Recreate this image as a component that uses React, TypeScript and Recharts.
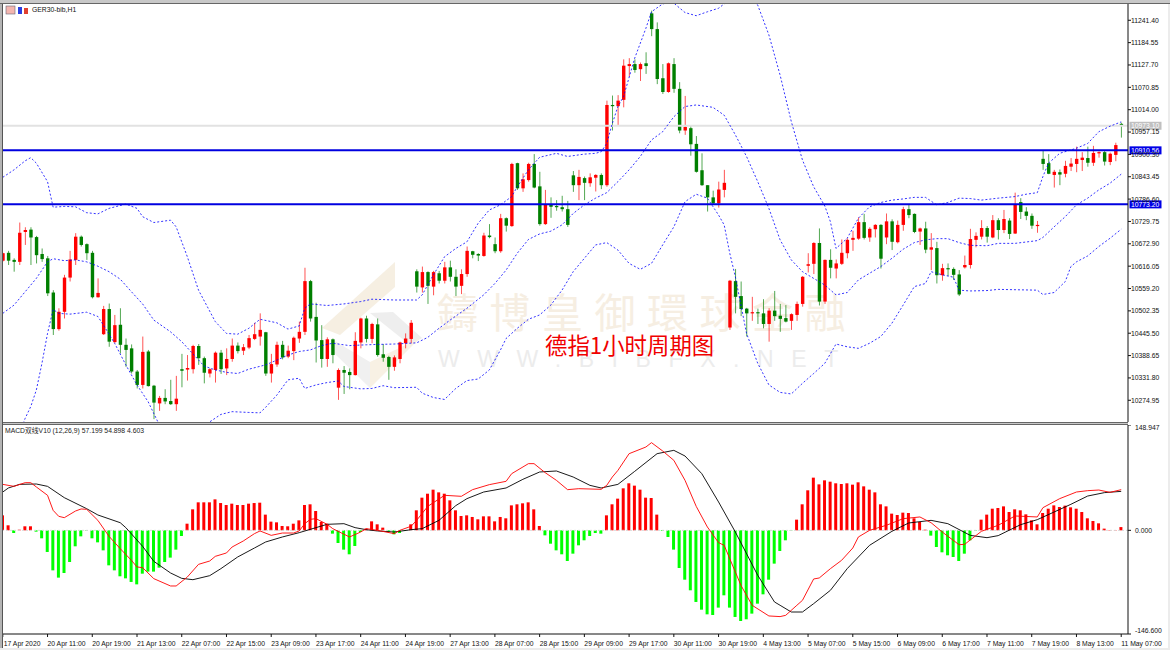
import React from "react";
import { ComposedChart, Bar, Line, XAxis, YAxis, ReferenceLine, Cell } from "recharts";

const opens = [
10630,10650,10632,10627,10703,10709,10690,10647,10636,10549,
10456,10500,10587,10632,10691,10672,10650,10537,10443,10507,
10423,10467,10416,10407,10348,10314,10399,10312,10267,10281,
10273,10265,10354,10353,10354,10413,10382,10343,10352,10396,
10356,10380,10414,10401,10409,10431,10437,10448,10343,10366,
10416,10386,10400,10432,10449,10578,10487,10428,10380,10430,
10307,10352,10347,10339,10422,10483,10431,10468,10392,10385,
10360,10380,10420,10431,10603,10562,10601,10564,10598,10579,
10613,10589,10566,10596,10654,10647,10642,10694,10672,10654,
10738,10718,10878,10814,10835,10876,10819,10723,10774,10769,
10766,10761,10847,10822,10840,10827,10841,10848,10822,11026,
11023,11039,11125,11130,11117,11132,11259,11219,11094,11059,
11130,11067,10961,10967,10927,10860,10822,10791,10776,10810,
10460,10578,10540,10508,10497,10499,10496,10469,10503,10490,
10484,10477,10492,10520,10617,10622,10675,10526,10632,10610,
10622,10649,10683,10686,10728,10689,10710,10721,10689,10730,
10677,10721,10761,10749,10704,10712,10658,10662,10593,10611,
10609,10595,10613,10619,10683,10691,10713,10689,10733,10708,
10732,10699,10779,10755,10744,10718,10889,10878,10848,10855,
10851,10869,10876,10886,10891,10879,10903,10906,10881,10899,
10978];
const closes = [
10649,10630,10627,10701,10708,10689,10644,10634,10547,10456,
10500,10587,10633,10691,10670,10649,10537,10548,10507,10424,
10466,10416,10403,10348,10314,10398,10311,10269,10281,10272,
10265,10279,10350,10357,10413,10382,10345,10354,10396,10354,
10380,10414,10400,10410,10433,10443,10454,10343,10367,10416,
10384,10401,10434,10449,10578,10483,10427,10380,10430,10390,
10352,10345,10339,10426,10483,10431,10469,10390,10383,10360,
10384,10422,10432,10472,10564,10601,10566,10601,10579,10613,
10589,10564,10596,10655,10645,10643,10694,10690,10654,10738,
10719,10876,10814,10837,10876,10816,10723,10774,10767,10767,
10761,10721,10822,10843,10828,10842,10848,10822,11026,11024,
11037,11126,11130,11115,11130,11125,11219,11092,11059,11132,
11067,10961,10970,10926,10856,10822,10791,10776,10811,10828,
10579,10538,10507,10496,10499,10498,10469,10503,10489,10482,
10475,10494,10520,10589,10621,10675,10526,10632,10612,10623,
10650,10683,10688,10728,10688,10711,10721,10635,10730,10678,
10721,10761,10746,10703,10712,10658,10664,10593,10611,10610,
10594,10544,10619,10685,10693,10713,10691,10733,10708,10736,
10698,10774,10754,10744,10719,10721,10876,10851,10856,10849,
10871,10877,10889,10892,10879,10904,10906,10882,10902,10924,
10973];
const highs = [
10650,10655,10636,10727,10715,10715,10693,10661,10642,10555,
10509,10594,10655,10700,10694,10674,10655,10585,10515,10521,
10492,10509,10432,10417,10352,10437,10403,10314,10286,10303,
10327,10337,10393,10390,10416,10418,10386,10356,10399,10403,
10407,10432,10422,10418,10441,10472,10496,10449,10393,10424,
10426,10414,10437,10475,10612,10581,10523,10466,10435,10432,
10356,10362,10356,10448,10485,10490,10472,10483,10418,10388,
10389,10424,10445,10479,10608,10615,10603,10604,10604,10627,
10630,10608,10608,10666,10655,10649,10701,10723,10689,10749,
10740,10879,10879,10852,10879,10901,10856,10810,10791,10784,
10795,10782,10858,10861,10844,10852,10850,10852,11037,11050,
11051,11142,11145,11142,11134,11160,11266,11236,11130,11134,
11145,11084,11049,10975,10947,10903,10822,10808,10831,10861,
10581,10609,10577,10510,10538,10508,10532,10509,10553,10520,
10517,10496,10526,10591,10649,10677,10712,10633,10659,10633,
10684,10687,10706,10740,10749,10715,10723,10723,10750,10735,
10732,10767,10774,10750,10714,10729,10700,10678,10622,10623,
10613,10606,10643,10711,10702,10733,10718,10746,10738,10759,
10738,10803,10789,10766,10750,10731,10910,10901,10861,10862,
10884,10891,10920,10906,10920,10922,10908,10909,10905,10930,
10981];
const lows = [
10628,10619,10602,10619,10670,10619,10623,10627,10540,10441,
10452,10483,10577,10619,10666,10632,10534,10536,10441,10411,
10420,10394,10360,10343,10305,10305,10310,10227,10248,10265,
10263,10248,10308,10325,10343,10365,10318,10333,10320,10342,
10339,10373,10394,10390,10405,10428,10414,10337,10320,10360,
10379,10382,10377,10421,10441,10475,10371,10358,10360,10369,
10276,10291,10303,10338,10407,10422,10420,10386,10373,10327,
10350,10369,10407,10420,10549,10549,10520,10542,10572,10572,
10577,10540,10545,10589,10636,10629,10640,10687,10649,10650,
10704,10716,10810,10805,10831,10814,10719,10721,10739,10757,
10755,10716,10805,10784,10784,10818,10806,10812,10818,10961,
10975,11020,11098,11108,11087,11105,11201,11079,11054,11057,
11057,10954,10950,10897,10854,10820,10755,10774,10765,10791,
10454,10496,10489,10437,10477,10469,10458,10424,10477,10449,
10473,10454,10477,10513,10600,10596,10516,10520,10585,10585,
10619,10636,10655,10683,10684,10678,10689,10610,10672,10657,
10674,10706,10738,10700,10670,10649,10606,10572,10579,10591,
10581,10540,10610,10610,10664,10684,10676,10687,10684,10700,
10685,10698,10736,10733,10711,10701,10861,10850,10816,10822,
10842,10858,10855,10858,10869,10871,10892,10872,10873,10883,
10943];

const upperBand = [[0,10842],[2,10861],[4,10884],[5,10892],[6,10878],[8,10831],[9,10766],[11,10768],[13,10767],[15,10752],[17,10749],[19,10763],[22,10774],[24,10763],[25,10742],[27,10727],[30,10733],[31,10716],[33,10640],[35,10555],[38,10475],[40,10445],[42,10443],[44,10458],[46,10481],[49,10472],[51,10456],[53,10464],[54,10509],[55,10520],[58,10516],[61,10520],[64,10526],[66,10532],[70,10530],[74,10530],[75,10543],[77,10594],[79,10640],[81,10661],[83,10678],[85,10725],[87,10759],[89,10772],[91,10793],[92,10818],[94,10861],[96,10893],[99,10903],[101,10895],[104,10901],[106,10903],[107,10907],[108,10928],[109,10979],[110,11022],[111,11047],[113,11145],[115,11221],[116,11263],[118,11283],[119,11286],[120,11285],[122,11261],[124,11253],[126,11263],[128,11272],[129,11283],[130,11296],[132,11306],[134,11301],[135,11280],[137,11204],[139,11102],[141,10984],[143,10886],[145,10818],[147,10769],[148,10729],[149,10661],[151,10687],[153,10738],[155,10767],[157,10778],[159,10784],[161,10787],[163,10791],[165,10791],[167,10772],[169,10778],[171,10789],[173,10788],[175,10784],[178,10789],[181,10793],[183,10799],[185,10803],[186,10844],[187,10878],[189,10903],[192,10916],[194,10928],[196,10958],[198,10972],[200,10983]];
const middleBand = [[0,10496],[2,10517],[4,10551],[6,10585],[8,10627],[9,10635],[11,10630],[13,10632],[15,10627],[17,10616],[19,10602],[21,10583],[23,10551],[25,10520],[27,10479],[30,10449],[32,10424],[34,10393],[36,10362],[38,10352],[40,10346],[42,10343],[44,10354],[47,10365],[49,10377],[51,10390],[53,10399],[55,10403],[57,10414],[59,10420],[62,10414],[65,10416],[67,10417],[70,10418],[74,10421],[76,10435],[78,10458],[80,10479],[83,10509],[86,10543],[88,10572],[90,10606],[92,10649],[94,10684],[96,10698],[98,10705],[100,10721],[102,10750],[104,10772],[106,10789],[108,10803],[110,10831],[112,10861],[114,10895],[116,10937],[118,10958],[120,10996],[122,11022],[124,11026],[127,11020],[129,11000],[131,10950],[133,10895],[135,10831],[137,10763],[139,10683],[141,10632],[143,10602],[145,10585],[147,10568],[149,10543],[151,10549],[153,10581],[155,10598],[157,10615],[159,10636],[161,10659],[163,10676],[165,10683],[167,10686],[169,10686],[171,10676],[173,10669],[176,10668],[178,10674],[181,10674],[185,10681],[186,10689],[188,10716],[190,10742],[192,10772],[194,10789],[196,10810],[198,10827],[200,10850]];
const lowerBand = [[0,10106],[2,10157],[4,10229],[5,10259],[6,10301],[7,10369],[8,10445],[9,10506],[10,10496],[12,10494],[15,10499],[17,10488],[18,10466],[20,10420],[22,10365],[24,10314],[26,10271],[28,10212],[30,10157],[32,10131],[34,10131],[35,10157],[37,10220],[39,10239],[41,10246],[44,10244],[46,10243],[47,10257],[49,10288],[51,10327],[53,10331],[54,10305],[56,10314],[58,10320],[60,10324],[61,10310],[64,10304],[66,10305],[68,10312],[70,10307],[74,10308],[75,10293],[77,10282],[79,10277],[81,10305],[83,10325],[85,10329],[87,10352],[89,10403],[90,10432],[92,10458],[94,10481],[96,10492],[98,10517],[100,10555],[102,10602],[104,10636],[106,10670],[108,10676],[110,10657],[112,10623],[114,10608],[116,10623],[118,10670],[120,10716],[122,10780],[124,10799],[126,10789],[128,10746],[129,10721],[130,10649],[131,10589],[133,10445],[135,10369],[137,10314],[139,10295],[141,10291],[143,10318],[145,10343],[147,10369],[149,10418],[151,10411],[153,10407],[155,10420],[157,10437],[159,10471],[161,10517],[163,10564],[165,10572],[166,10602],[168,10594],[170,10588],[171,10555],[173,10553],[176,10554],[178,10557],[185,10555],[186,10544],[188,10549],[190,10577],[191,10615],[192,10627],[194,10642],[196,10666],[198,10687],[200,10710]];

const histogram = [
21.2,7.1,-3.8,0.9,5.7,5.7,-1.9,-11.3,-30.6,-56.6,
-66.9,-60.3,-44.8,-22.6,-8.5,-0.5,-11.3,-17,-28.3,-49.5,
-56.6,-65,-67.9,-73,-76.4,-61.3,-58.4,-58.4,-52.8,-44.8,
-38.6,-27.3,-8,9.4,29.7,39.6,39.6,39.6,43.8,38.6,
35.8,37.7,35.8,35.8,37.7,38.6,39.1,22.2,12.3,11.3,
6.1,5.7,9.4,14.1,35.8,36.8,27.3,11.8,9.4,-4.7,
-17.9,-27.3,-33.9,-22.2,-2.4,2.4,12.7,8.5,3.8,-1.9,
-5.7,-3.8,-0.9,8.5,28.3,46.2,51.8,57.5,53.7,51.8,
42.4,28.3,20.3,21.2,18.9,15.6,19.8,19.8,12.7,18.9,
17,35.3,36.8,38.2,39.6,29.7,6.1,-7.1,-18.9,-28.3,
-33.9,-43.4,-33,-21.2,-14.1,-8,-3.8,-4.7,21.2,36.8,
44.8,59.4,66.5,63.2,57.5,46.2,45.7,22.2,-0.9,-9.4,
-27.3,-53.3,-69.8,-84.8,-101.3,-112.2,-118.8,-119.7,-109.3,-91.9,
-109.3,-122.5,-128.2,-125.8,-117.8,-103.7,-90.5,-69.8,-47.1,-29.2,
-14.1,-0.5,15.1,36.8,56.6,74.5,65,70.7,68.8,66.5,
65.5,66.5,64.6,67.9,62.2,57.5,53.7,36.8,33.9,23.6,
21.7,25,24.5,17,11.8,0.9,-7.5,-23.6,-31.1,-35.3,
-37.7,-43.4,-33,-14.1,-0.5,15.1,22.2,30.6,31.6,33.9,
25.9,29.7,28.3,22.6,14.1,8.5,24.5,30.6,35.3,33,
34.9,32.5,30.6,25.9,17,13.2,9.9,2.4,0.5,0.5,
4.6];

const macdLine = [[0,65],[2,62.2],[4,67.4],[5,67.4],[6,61.3],[8,49.5],[9,28.3],[10,19.8],[11,17.9],[13,27.3],[14,30.2],[15,29.7],[17,14.1],[19,-8.5],[21,-25.9],[23,-42.4],[24,-51.8],[25,-52.8],[27,-68.3],[30,-78.7],[31,-78.7],[33,-66],[35,-48.1],[37,-43.4],[38,-36.8],[40,-32],[41,-23.6],[43,-15.1],[45,-4.7],[46,-0.9],[48,-7.1],[50,-3.8],[52,-3.8],[53,-0.9],[54,9.4],[55,15.6],[56,16.5],[58,8.5],[59,2.4],[62,-9.4],[64,-2.4],[65,2.4],[67,0],[70,-4.7],[71,0],[73,5.7],[74,14.1],[76,33.9],[79,49.5],[82,48.1],[84,57.5],[87,64.6],[90,69.3],[91,80.1],[94,94.3],[95,94.3],[97,81.5],[99,70.7],[101,57.5],[103,58.9],[107,58],[108,63.6],[109,75.4],[110,84.8],[111,96.6],[112,108.4],[115,117.8],[116,124],[118,112.2],[120,99],[122,70.7],[124,33.9],[126,4.7],[128,-17.4],[129,-21.2],[132,-77.8],[134,-106],[137,-121.1],[139,-122],[140,-120.2],[142,-106],[143,-99],[145,-68.8],[146,-67.4],[148,-54.2],[150,-42.4],[152,-25],[153,-9.4],[155,0],[158,7.1],[161,16.5],[164,18.9],[166,10.8],[168,-2.4],[171,-20.3],[172,-19.8],[175,-1.4],[178,7.1],[181,20.3],[185,18.9],[186,32],[189,44.8],[192,54.2],[194,56.1],[196,57],[198,53.7],[200,57.5]];
const signalLine = [[0,54.2],[1,59.9],[3,65],[6,65.5],[8,62.2],[11,46.2],[15,30.6],[17,21.7],[21,10.8],[22,3.8],[25,-22.6],[27,-43.8],[30,-60.3],[32,-67.9],[34,-69.8],[37,-64.1],[39,-54.2],[42,-37.7],[45,-25],[47,-16.5],[50,-9.4],[53,-3.3],[56,3.8],[58,8.5],[61,9.4],[63,3.8],[65,0.9],[67,-0.9],[70,-2.4],[73,0.9],[75,2.4],[78,14.1],[81,34.9],[83,44.8],[86,54.2],[90,59.9],[93,72.1],[96,82.5],[99,83.9],[102,75.4],[105,63.6],[107,59.9],[110,65],[113,83.4],[117,108.4],[120,113.1],[122,105.1],[125,80.1],[128,40.1],[131,-2.4],[135,-63.6],[138,-101.3],[139,-106],[141,-115.5],[143,-115.5],[145,-103.7],[148,-84.8],[151,-54.2],[155,-21.2],[159,-1.4],[162,10.4],[166,14.1],[169,9.4],[173,-7.1],[176,-10.4],[178,-7.5],[182,8],[185,15.1],[188,25.9],[191,36.8],[194,48.5],[197,53.3],[200,55.1]];

const timeLabels = ["17 Apr 2020","20 Apr 11:00","20 Apr 19:00","21 Apr 13:00","22 Apr 07:00","22 Apr 15:00","23 Apr 09:00","23 Apr 17:00","24 Apr 11:00","24 Apr 19:00","27 Apr 13:00","28 Apr 07:00","28 Apr 15:00","29 Apr 09:00","29 Apr 17:00","30 Apr 11:00","30 Apr 19:00","4 May 13:00","5 May 07:00","5 May 15:00","6 May 09:00","6 May 17:00","7 May 11:00","7 May 19:00","8 May 13:00","11 May 07:00"];
const timeTicks = timeLabels.map((_, k) => k * 8);
const priceTicks = [11241.4,11184.55,11127.7,11070.85,11014,10957.15,10900.3,10843.45,10786.6,10729.75,10672.9,10616.05,10559.2,10502.35,10445.5,10388.65,10331.8,10274.95];
const macdTicks = [148.947, 0, -146.6];
const levelA = 10910.56;
const levelB = 10773.2;
const lastPrice = 10973.1;

const lookup = (pairs: number[][]) => new Map(pairs.map((p) => [p[0], p[1]]));
const up = lookup(upperBand), mid = lookup(middleBand), lo = lookup(lowerBand), mc = lookup(macdLine), sg = lookup(signalLine);
const rows = opens.map((o, i) => ({
  i, open: o, close: closes[i], high: highs[i], low: lows[i], range: [lows[i], highs[i]],
  upper: up.get(i) ?? null, middle: mid.get(i) ?? null, lower: lo.get(i) ?? null,
  hist: histogram[i], macd: mc.get(i) ?? null, signal: sg.get(i) ?? null,
}));

const FONT = '"Liberation Sans", Arial, sans-serif';
const CJK = '"Noto Sans CJK SC", sans-serif';
const SMALL = 6.8;

const Candle = (props: any) => {
  const { x, y, width, height, payload } = props;
  const { open, high, low, close } = payload;
  const span = high - low || 1;
  const py = (v: number) => y + ((high - v) / span) * height;
  const top = py(Math.max(open, close));
  const bot = py(Math.min(open, close));
  const cx = x + width / 2;
  const color = close > open ? "#ff0000" : "#007f00";
  return (
    <g>
      <line x1={cx} x2={cx} y1={y} y2={y + height} stroke={color} strokeWidth={0.9} opacity={0.75} />
      <rect x={cx - 1.7} width={3.4} y={top} height={Math.max(bot - top, 1.2)} fill={color} />
    </g>
  );
};

const tagLabel = (text: string, fill: string) => (p: any) => {
  const vb = p.viewBox;
  const right = vb.x + vb.width;
  const cy = vb.y;
  return (
    <g>
      <rect x={right + 1.5} y={cy - 4} width={32} height={8} fill={fill} />
      <text x={right + 3} y={cy + 2.4} fontSize={SMALL} fontFamily={FONT} fill="#ffffff">{text}</text>
    </g>
  );
};

const MacdTick = (p: any) => {
  const v = p.payload.value;
  const dy = v > 100 ? 4.5 : v < -100 ? -1 : 2.4;
  return <text x={p.x + 2} y={p.y + dy} fontSize={SMALL} fontFamily={FONT} fill="#111">{v.toFixed(3)}</text>;
};

const TimeTick = (p: any) => (
  <text x={p.index === 0 ? p.x + 1 : p.x} y={p.y + 7} fontSize={SMALL} fontFamily={FONT} fill="#111" textAnchor="start">
    {timeLabels[p.payload.value / 8]}
  </text>
);

const abs = (s: React.CSSProperties): React.CSSProperties => ({ position: "absolute", ...s });

export default function App() {
  return (
    <div style={abs({ left: 0, top: 0, width: 1170, height: 650, background: "#ececec", overflow: "hidden" })}>
      <div style={abs({ left: 0, top: 0, width: 1168, height: 648, background: "#fff" })} />

      {/* watermark */}
      <svg style={abs({ left: 0, top: 0 })} width={1170} height={650}>
        <polygon points="395,262 395,287 340,335 322,328" fill="#f6efe2" />
        <polygon points="370,313 393,312 422,338 410,345" fill="#eeeeee" />
        <polygon points="333,340 370,362 370,388 333,352" fill="#f0f0f0" />
        <polygon points="370,362 420,338 400,358 370,388" fill="#f8f1e4" />
      </svg>
      <div style={abs({ left: 437, top: 285, width: 420, height: 50, fontFamily: '"Noto Sans CJK TC", sans-serif', fontSize: 41, letterSpacing: 11.5, lineHeight: "50px", color: "#f6eee2", whiteSpace: "nowrap" })}>鑄博皇御環球金融</div>
      <div style={abs({ left: 438, top: 347, width: 420, height: 24, fontFamily: FONT, fontSize: 23, letterSpacing: 17.6, lineHeight: "24px", color: "#ececec", whiteSpace: "nowrap" })}>WWW.BIBFX.NET</div>

      <div style={abs({ left: 0, top: 4 })}>
        <ComposedChart width={1168} height={418} data={rows} margin={{ top: 0, right: 0, bottom: 0, left: 0 }} barCategoryGap={0}>
          <XAxis dataKey="i" hide padding={{ left: 0, right: 4 }} />
          <YAxis orientation="right" width={40} domain={[10219.7, 11282.8]} allowDataOverflow ticks={priceTicks} interval={0}
            tickFormatter={(v: number) => v.toFixed(2)} tickSize={3} tickMargin={0}
            axisLine={{ stroke: "#111" }} tickLine={{ stroke: "#111" }}
            tick={{ fontSize: SMALL, fontFamily: FONT, fill: "#111" }} />
          <ReferenceLine y={lastPrice} stroke="#e2e2e2" strokeWidth={2} label={{ content: tagLabel("10973.10", "#c0c0c0") }} />
          <Bar dataKey="range" barSize={4} shape={<Candle />} isAnimationActive={false} />
          <Line dataKey="upper" connectNulls dot={false} stroke="#0000ff" strokeWidth={0.8} strokeDasharray="2 2" isAnimationActive={false} />
          <Line dataKey="middle" connectNulls dot={false} stroke="#0000ff" strokeWidth={0.8} strokeDasharray="2 2" isAnimationActive={false} />
          <Line dataKey="lower" connectNulls dot={false} stroke="#0000ff" strokeWidth={0.8} strokeDasharray="2 2" isAnimationActive={false} />
          <ReferenceLine y={levelA} stroke="#0000e0" strokeWidth={2} label={{ content: tagLabel("10910.56", "#0000e6") }} />
          <ReferenceLine y={levelB} stroke="#0000e0" strokeWidth={2} label={{ content: tagLabel("10773.20", "#0000e6") }} />
        </ComposedChart>
      </div>

      <div style={abs({ left: 0, top: 425 })}>
        <ComposedChart width={1168} height={225} data={rows} margin={{ top: 0, right: 0, bottom: 0, left: 0 }} barCategoryGap={0}>
          <XAxis dataKey="i" height={16} padding={{ left: 0, right: 4 }} ticks={timeTicks} interval={0} tick={<TimeTick />} tickSize={3}
            axisLine={{ stroke: "#111" }} tickLine={{ stroke: "#111" }} />
          <YAxis orientation="right" width={40} domain={[-146.6, 148.947]} allowDataOverflow ticks={macdTicks} interval={0} tick={<MacdTick />} tickSize={3}
            axisLine={{ stroke: "#111" }} tickLine={{ stroke: "#111" }} />
          <ReferenceLine y={0} stroke="#d8d8d8" strokeDasharray="2 2" />
          <Bar dataKey="hist" barSize={3} isAnimationActive={false}>
            {rows.map((r) => <Cell key={r.i} fill={r.hist >= 0 ? "#ff0000" : "#00ff00"} />)}
          </Bar>
          <Line dataKey="signal" connectNulls dot={false} stroke="#000000" strokeWidth={0.9} isAnimationActive={false} />
          <Line dataKey="macd" connectNulls dot={false} stroke="#ff0000" strokeWidth={0.9} isAnimationActive={false} />
        </ComposedChart>
      </div>

      {/* overlay caption */}
      <div style={abs({ left: 545, top: 329, fontFamily: CJK, fontSize: 22.4, lineHeight: "30px", color: "#f00000", whiteSpace: "nowrap" })}>德指1小时周期图</div>

      {/* window frame */}
      <div style={abs({ left: 0, top: 0, width: 3, height: 648, background: "#b4b4b4", borderRight: "1px solid #555", boxSizing: "border-box" })} />
      <div style={abs({ left: 0, top: 0, width: 1170, height: 4, background: "#c8c8c8", borderBottom: "1px solid #666", boxSizing: "border-box" })} />
      <div style={abs({ left: 3, top: 422, width: 1125, height: 3, background: "#c8c8c8", borderTop: "1px solid #666", borderBottom: "1px solid #666", boxSizing: "border-box" })} />

      {/* window captions */}
      <svg style={abs({ left: 5, top: 5 })} width={24} height={10}>
        <rect x={1} y={1} width={9} height={8} fill="#f4b6b0" stroke="#667" strokeWidth={0.6} />
        <rect x={13} y={2} width={4} height={7} fill="#2a3fe0" />
        <rect x={19} y={3} width={4} height={6} fill="#e04030" />
      </svg>
      <div style={abs({ left: 32, top: 5, fontFamily: FONT, fontSize: 6.8, lineHeight: "9px", color: "#111", whiteSpace: "nowrap" })}>GER30-bib,H1</div>
      <div style={abs({ left: 5, top: 426, fontFamily: FONT + ", " + CJK, fontSize: 6.8, lineHeight: "9px", color: "#222", whiteSpace: "nowrap" })}>MACD双线V10 (12,26,9) 57.199 54.898 4.603</div>
    </div>
  );
}
